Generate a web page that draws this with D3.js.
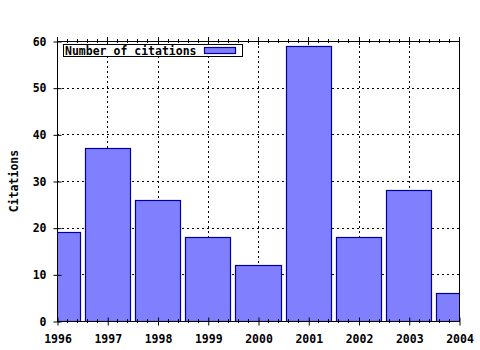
<!DOCTYPE html>
<html><head><meta charset="utf-8">
<script src="https://cdn.jsdelivr.net/npm/d3@7"></script>
<style>
html,body{margin:0;padding:0;background:#fff;}
text{font-family:"DejaVu Sans Mono",monospace;font-weight:bold;font-size:11.5px;fill:#000;}
</style></head>
<body><svg id="c" width="480" height="350"></svg>
<script>
const years = [1996, 1997, 1998, 1999, 2000, 2001, 2002, 2003, 2004];
const citations = [19, 37, 26, 18, 12, 59, 18, 28, 6];
const yTicks = [0, 10, 20, 30, 40, 50, 60];
const seriesName = "Number of citations";
const yTitle = "Citations";

const svg = d3.select("#c");
const L = 57, R = 459, T = 41, B = 321;
const x = d3.scaleLinear().domain([1996, 2004]).range([L, R]);
const y = d3.scaleLinear().domain([0, 60]).range([B, T]);

svg.append("defs").append("clipPath").attr("id","clip")
  .append("rect").attr("x", L).attr("y", T).attr("width", R-L).attr("height", B-T);

// gridlines
const grid = svg.append("g").attr("stroke","#000").attr("stroke-width",1).attr("stroke-dasharray","2,3").attr("shape-rendering","crispEdges");
yTicks.slice(1, -1).forEach(v => grid.append("line").attr("x1",L).attr("x2",R).attr("y1",Math.round(y(v))+0.5).attr("y2",Math.round(y(v))+0.5));
years.slice(1, -1).forEach(v => grid.append("line").attr("x1",Math.round(x(v))+0.5).attr("x2",Math.round(x(v))+0.5).attr("y1",T).attr("y2",B));

// bars
const bw = 0.9;
svg.append("g").attr("clip-path","url(#clip)").selectAll("rect").data(years).join("rect")
  .attr("x", d => Math.round(x(d - bw/2)) + 0.5)
  .attr("width", d => Math.round(x(d + bw/2)) - Math.round(x(d - bw/2)))
  .attr("y", (d,i) => Math.round(y(citations[i])) + 0.5)
  .attr("height", (d,i) => B - Math.round(y(citations[i])))
  .attr("fill","#8080ff").attr("stroke","#0000a0").attr("stroke-width",1.2);

// frame
svg.append("rect").attr("x",L+0.5).attr("y",T+0.5).attr("width",R-L).attr("height",B-T)
  .attr("fill","none").attr("stroke","#000").attr("stroke-width",1);

// axes
const xAxis = d3.axisBottom(x).tickValues(years).tickFormat(d3.format("d")).tickSizeInner(4).tickSizeOuter(0).tickPadding(9);
const gx = svg.append("g").attr("transform",`translate(0.5,${B+0.5})`).call(xAxis);
gx.select(".domain").remove();
gx.selectAll(".tick line").attr("y1",-4).attr("y2",4);
gx.selectAll(".tick text").attr("font-size","11.5px").attr("font-family","DejaVu Sans Mono").attr("font-weight","bold").attr("y",13).attr("dy","0.71em");

const minorX = [];
for (let i = 0; i < years.length - 1; i++) for (let k = 1; k < 5; k++) minorX.push(years[i] + k*0.2);
const mx = svg.append("g").attr("stroke","#000");
minorX.forEach(v => {
  const px = Math.round(x(v)) + 0.5;
  mx.append("line").attr("x1",px).attr("x2",px).attr("y1",B-2).attr("y2",B+2);
  mx.append("line").attr("x1",px).attr("x2",px).attr("y1",T-2).attr("y2",T+2);
});
years.forEach(v => {
  const px = Math.round(x(v)) + 0.5;
  mx.append("line").attr("x1",px).attr("x2",px).attr("y1",T-4).attr("y2",T+4);
});

const yAxis = d3.axisLeft(y).tickValues(yTicks).tickFormat(d3.format("d")).tickSizeInner(4).tickSizeOuter(0).tickPadding(7);
const gy = svg.append("g").attr("transform",`translate(${L+0.5},0.5)`).call(yAxis);
gy.select(".domain").remove();
gy.selectAll(".tick line").attr("x1",-4).attr("x2",4);
gy.selectAll(".tick text").attr("font-size","11.5px").attr("font-family","DejaVu Sans Mono").attr("font-weight","bold");

// y title
svg.append("text").attr("transform",`translate(18,${(T+B)/2}) rotate(-90)`).attr("text-anchor","middle").text(yTitle);

// legend
const lg = svg.append("g");
lg.append("rect").attr("x",63.5).attr("y",44.5).attr("width",179).attr("height",12).attr("fill","#fff").attr("stroke","#000");
lg.append("text").attr("x",65).attr("y",54.5).text(seriesName);
lg.append("rect").attr("x",204.5).attr("y",47.5).attr("width",31).attr("height",6).attr("fill","#8080ff").attr("stroke","#0000a0").attr("stroke-width",1.2);
</script></body></html>
